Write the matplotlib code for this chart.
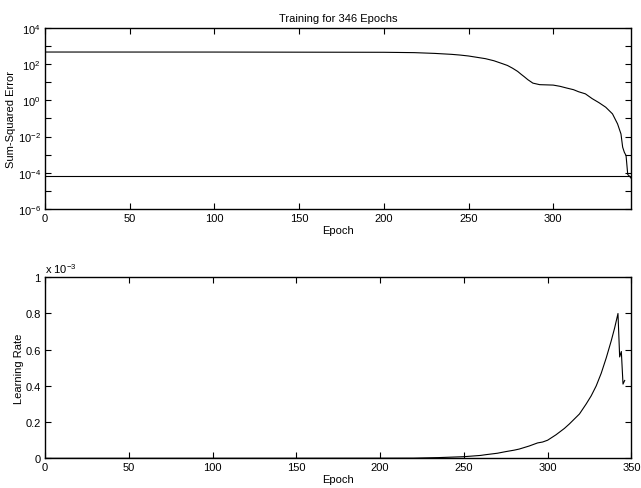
import math
import matplotlib
matplotlib.use("Agg")
import matplotlib.pyplot as plt
from matplotlib.ticker import FixedLocator, FuncFormatter

plt.rcParams['font.family'] = ['Liberation Sans', 'DejaVu Sans']
plt.rcParams['font.size'] = 8

# sum-squared error
err_epoch = [0, 100, 200, 218, 230, 240, 245, 250, 260, 265, 270, 273, 276, 279,
             281, 283, 285, 288, 292, 296, 300, 304, 308, 312, 315, 319, 323, 327,
             331, 335, 338, 340, 341, 342, 343, 344, 345, 346]
err_value = [470, 468, 455, 435, 395, 350, 320, 284, 202, 155, 107, 85, 60, 40,
             28, 20, 14, 9, 7.4, 7.2, 7.0, 6.0, 4.8, 3.9, 3.0, 2.3, 1.25, 0.75,
             0.42, 0.18, 0.05, 0.014, 2.6e-3, 1.35e-3, 9e-4, 8e-5, 6.5e-5, 5e-5]
goal = 7e-5

# learning rate (units of 1e-3)
lr_epoch = [0, 150, 200, 220, 235, 250, 260, 263, 270, 275, 280, 283, 289, 294,
            297, 300, 305, 310, 313, 319, 323, 326, 329, 332, 335, 338, 340, 342,
            343, 344, 345, 346]
lr_e3 = [0.0, 0.0005, 0.0008, 0.001, 0.004, 0.009, 0.016, 0.02, 0.028, 0.037,
         0.045, 0.051, 0.068, 0.085, 0.09, 0.1, 0.13, 0.165, 0.19, 0.245, 0.30,
         0.345, 0.40, 0.47, 0.555, 0.65, 0.72, 0.80, 0.56, 0.59, 0.41, 0.43]

n_epochs = 346

fig = plt.figure(figsize=(6.41, 4.89), dpi=100)
ax1 = fig.add_axes([0.0702, 0.5706, 0.9144, 0.3701])
ax2 = fig.add_axes([0.0702, 0.0607, 0.9148, 0.3702])


def style(ax):
    for s in ax.spines.values():
        s.set_linewidth(1.0)
    ax.tick_params(which='both', direction='in', top=True, right=True,
                   length=4, width=0.8, labelsize=8, pad=3)


def pow10(v, p):
    return r'10$^{\mathdefault{%d}}$' % round(math.log10(v))


# top: error
ax1.semilogy(err_epoch, err_value, color='black', lw=0.8)
ax1.axhline(goal, color='black', lw=0.8)
ax1.set_xlim(0, n_epochs)
ax1.set_ylim(1e-6, 1e4)
ax1.yaxis.set_major_locator(FixedLocator([1e-6, 1e-4, 1e-2, 1e0, 1e2, 1e4]))
ax1.yaxis.set_minor_locator(FixedLocator([1e-5, 1e-3, 1e-1, 1e1, 1e3]))
ax1.yaxis.set_minor_formatter(FuncFormatter(lambda v, p: ''))
ax1.yaxis.set_major_formatter(FuncFormatter(pow10))
ax1.set_xticks([0, 50, 100, 150, 200, 250, 300])
ax1.set_title('Training for %d Epochs' % n_epochs, fontsize=8, pad=5)
ax1.set_xlabel('Epoch', labelpad=1)
ax1.set_ylabel('Sum-Squared Error', labelpad=1)
style(ax1)

# bottom: learning rate
ax2.plot(lr_epoch, lr_e3, color='black', lw=0.8)
ax2.set_xlim(0, 350)
ax2.set_ylim(0, 1)
ax2.set_xticks([0, 50, 100, 150, 200, 250, 300, 350])
ax2.set_yticks([0, 0.2, 0.4, 0.6, 0.8, 1])
ax2.yaxis.set_major_formatter(FuncFormatter(lambda v, p: '%g' % v))
ax2.text(0.0, 1.015, r'x 10$^{\mathdefault{-3}}$', transform=ax2.transAxes,
         fontsize=8, ha='left', va='bottom')
ax2.set_xlabel('Epoch', labelpad=1)
ax2.set_ylabel('Learning Rate', labelpad=1)
style(ax2)

fig.savefig('out.png', dpi=100)
